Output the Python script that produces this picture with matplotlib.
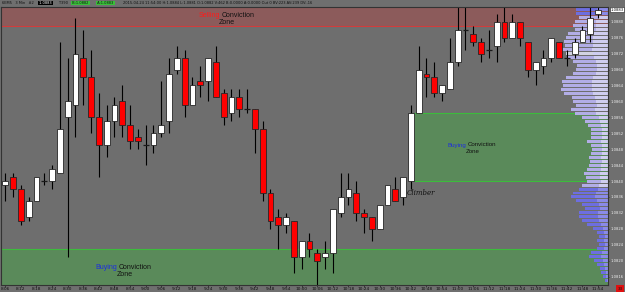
import matplotlib
matplotlib.use("Agg")
import matplotlib.pyplot as plt
from matplotlib.patches import Rectangle
import matplotlib.transforms as mtransforms
import numpy as np

W, H = 625, 292

# 6EM5, 3 minute bars, 2015-04-24 08:06 .. 11:54
opens = [1.0839, 1.0841, 1.0838, 1.0831, 1.0835, 1.0840, 1.0840, 1.0842, 1.0856, 1.0859,
         1.0871, 1.0866, 1.0856, 1.0849, 1.0855, 1.0860, 1.0854, 1.0851, 1.0849, 1.0849,
         1.0852, 1.0855, 1.0868, 1.0871, 1.0859, 1.0865, 1.0865, 1.0870, 1.0862, 1.0857,
         1.0861, 1.0858, 1.0858, 1.0853, 1.0837, 1.0831, 1.0829, 1.0830, 1.0821, 1.0825,
         1.0822, 1.0821, 1.0822, 1.0832, 1.0836, 1.0837, 1.0832, 1.0831, 1.0828, 1.0834,
         1.0838, 1.0836, 1.0840, 1.0857, 1.0867, 1.0866, 1.0862, 1.0863, 1.0870, 1.0878,
         1.0877, 1.0875, 1.0873, 1.0874, 1.0880, 1.0876, 1.0880, 1.0875, 1.0868, 1.0869,
         1.0871, 1.0875, 1.0871, 1.0872, 1.0875, 1.0877, 1.0882]
highs = [1.0842, 1.0842, 1.0839, 1.0836, 1.0841, 1.0842, 1.0844, 1.0875, 1.0871, 1.0881,
         1.0878, 1.0873, 1.0862, 1.0859, 1.0861, 1.0864, 1.0859, 1.0853, 1.0854, 1.0854,
         1.0865, 1.0871, 1.0874, 1.0873, 1.0866, 1.0869, 1.0871, 1.0874, 1.0863, 1.0863,
         1.0863, 1.0863, 1.0858, 1.0855, 1.0838, 1.0833, 1.0832, 1.0830, 1.0825, 1.0827,
         1.0823, 1.0825, 1.0833, 1.0842, 1.0842, 1.0840, 1.0833, 1.0831, 1.0834, 1.0839,
         1.0841, 1.0841, 1.0859, 1.0874, 1.0871, 1.0870, 1.0864, 1.0876, 1.0884, 1.0884,
         1.0879, 1.0876, 1.0878, 1.0882, 1.0884, 1.0882, 1.0880, 1.0875, 1.0870, 1.0873,
         1.0876, 1.0875, 1.0873, 1.0876, 1.0879, 1.0884, 1.0884]
lows = [1.0835, 1.0836, 1.0829, 1.0830, 1.0835, 1.0839, 1.0838, 1.0842, 1.0821, 1.0851,
        1.0859, 1.0852, 1.0841, 1.0846, 1.0851, 1.0851, 1.0848, 1.0848, 1.0844, 1.0847,
        1.0851, 1.0852, 1.0867, 1.0856, 1.0859, 1.0861, 1.0860, 1.0861, 1.0854, 1.0855,
        1.0856, 1.0857, 1.0847, 1.0835, 1.0828, 1.0823, 1.0827, 1.0817, 1.0818, 1.0821,
        1.0814, 1.0818, 1.0817, 1.0831, 1.0834, 1.0830, 1.0827, 1.0825, 1.0828, 1.0834,
        1.0835, 1.0834, 1.0838, 1.0857, 1.0861, 1.0861, 1.0860, 1.0863, 1.0869, 1.0873,
        1.0874, 1.0870, 1.0871, 1.0870, 1.0875, 1.0876, 1.0874, 1.0866, 1.0864, 1.0867,
        1.0870, 1.0871, 1.0869, 1.0871, 1.0875, 1.0875, 1.0881]
closes = [1.0840, 1.0838, 1.0830, 1.0835, 1.0841, 1.0840, 1.0843, 1.0853, 1.0860, 1.0872,
          1.0866, 1.0856, 1.0849, 1.0855, 1.0859, 1.0854, 1.0850, 1.0850, 1.0849, 1.0852,
          1.0854, 1.0867, 1.0871, 1.0859, 1.0864, 1.0864, 1.0871, 1.0861, 1.0856, 1.0861,
          1.0858, 1.0858, 1.0853, 1.0837, 1.0830, 1.0829, 1.0831, 1.0821, 1.0825, 1.0823,
          1.0820, 1.0822, 1.0833, 1.0836, 1.0838, 1.0832, 1.0831, 1.0828, 1.0834, 1.0839,
          1.0835, 1.0841, 1.0857, 1.0868, 1.0866, 1.0862, 1.0864, 1.0870, 1.0878, 1.0878,
          1.0875, 1.0872, 1.0873, 1.0880, 1.0876, 1.0880, 1.0876, 1.0868, 1.0870, 1.0871,
          1.0876, 1.0871, 1.0871, 1.0875, 1.0878, 1.0881, 1.0883]

# one time label every second bar
time_labels = ["8:06", "8:12", "8:18", "8:24", "8:30", "8:36", "8:42", "8:48", "8:54",
               "9:00", "9:06", "9:12", "9:18", "9:24", "9:30", "9:36", "9:42", "9:48",
               "9:54", "10:00", "10:06", "10:12", "10:18", "10:24", "10:30", "10:36",
               "10:42", "10:48", "10:54", "11:00", "11:06", "11:12", "11:18", "11:24",
               "11:30", "11:36", "11:42", "11:48", "11:54"]

price_ticks = [1.0816, 1.0820, 1.0824, 1.0828, 1.0832, 1.0836, 1.0840, 1.0844, 1.0848,
               1.0852, 1.0856, 1.0860, 1.0864, 1.0868, 1.0872, 1.0876, 1.0880]

# volume at price, one row per pip from 1.0883 down to 1.0815
profile_top = 1.0883
profile_volume = [32, 32, 29, 33, 35, 33, 40, 42, 44, 43,
                  47, 42, 41, 35, 31, 32, 35, 42, 46, 45,
                  47, 44, 36, 35, 32, 37, 33, 26, 23, 20,
                  17, 17, 17, 21, 17, 16, 17, 19, 18, 19,
                  21, 24, 22, 21, 26, 29, 35, 37, 32, 26,
                  23, 29, 29, 26, 21, 15, 11, 9, 11, 9,
                  11, 17, 19, 14, 11, 8, 7, 5, 3]
poc_price = 1.0872
value_area = (1.0839, 1.0881)

# conviction zones
selling_zone = (1.0879, 1.0890)
buying_zone_low = (1.0800, 1.0823)
buying_zone_mid = (1.0840, 1.0857)
mid_zone_start_bar = 52
climber_bar = 52

last_price = closes[-1]

BG = "#6f6f6f"
RED_ZONE = "#8c5b5b"
GREEN_ZONE = "#5a8a5a"
GREEN_EDGE = "#3cbc3c"
RED_EDGE = "#d23c3c"
TEXT_DARK = "#111111"


def fx(x):
    return x / W


def fy(y):
    return 1 - y / H


def hide_axis(a):
    a.tick_params(left=False, right=False, bottom=False, top=False,
                  labelleft=False, labelright=False, labelbottom=False, labeltop=False)
    for s in a.spines.values():
        s.set_visible(False)


fig = plt.figure(figsize=(W / 100, H / 100), dpi=100, facecolor=BG)
rect = [fx(1), fy(285), fx(607), 278 / H]

n = len(opens)
xlim = (-0.55, 77.27)
ylim = (1.08139, 1.08837)

# background layer: zones
ax_bg = fig.add_axes(rect)
ax_bg.set_facecolor("#6e6e6e")
ax_bg.set_xlim(*xlim)
ax_bg.set_ylim(*ylim)
ax_bg.axhspan(*selling_zone, color=RED_ZONE, lw=0)
ax_bg.axhline(selling_zone[0], color=RED_EDGE, lw=0.8)
ax_bg.axhspan(*buying_zone_low, color=GREEN_ZONE, lw=0)
ax_bg.axhline(buying_zone_low[1], color=GREEN_EDGE, lw=0.8)
x0 = mid_zone_start_bar + 0.37
ax_bg.add_patch(Rectangle((x0, buying_zone_mid[0]), xlim[1] - x0,
                          buying_zone_mid[1] - buying_zone_mid[0],
                          color=GREEN_ZONE, lw=0))
ax_bg.hlines(buying_zone_mid, x0, xlim[1], color=GREEN_EDGE, lw=0.8)
hide_axis(ax_bg)

# middle layer: volume profile, bars grow from the right edge
ax_p = fig.add_axes(rect, sharey=ax_bg)
ax_p.patch.set_visible(False)
levels = np.round(profile_top - 0.0001 * np.arange(len(profile_volume)), 4)
vol = np.array(profile_volume)
in_va = (levels >= value_area[0]) & (levels <= value_area[1])
colors = np.where(in_va, "#b2ade6", "#6d6ee0")
colors[np.isclose(levels, poc_price)] = "#d2d2e2"
ax_p.barh(levels, vol, height=0.000075, left=0, color=colors, lw=0)
# lighter right-hand end of each bar
ax_p.barh(levels, vol * 0.35, height=0.000075, left=0,
          color=np.where(in_va, "#cfcdf0", "#8a8ae8"), lw=0)
ax_p.set_xlim(607, 0)
hide_axis(ax_p)

# top layer: candles
ax = fig.add_axes(rect, sharex=ax_bg, sharey=ax_bg)
ax.patch.set_visible(False)
idx = np.arange(n)
o = np.array(opens)
c = np.array(closes)
ax.vlines(idx, lows, highs, color="black", lw=0.8, zorder=2)
doji = np.isclose(o, c)
body_lo = np.minimum(o, c)
body_h = np.abs(c - o)
body_col = np.where(c > o, "white", "#ff0000")
ax.bar(idx[~doji], body_h[~doji], bottom=body_lo[~doji], width=0.74,
       color=body_col[~doji], edgecolor="#262626", lw=0.6, zorder=3)
ax.hlines(o[doji], idx[doji] - 0.37, idx[doji] + 0.37, color="#1a1a1a",
          lw=0.9, zorder=3)

ax.set_xlim(*xlim)
ax.set_ylim(*ylim)
ax.set_xticks(idx[::2])
ax.set_xticklabels(time_labels, fontsize=3.1, color=TEXT_DARK)
ax.yaxis.tick_right()
ax.set_yticks(price_ticks)
ax.set_yticklabels([f"{p:.4f}" for p in price_ticks], fontsize=2.7, color="#eeeeee")
ax.tick_params(axis="x", length=1.2, width=0.5, pad=0.6, color="#222222")
ax.tick_params(axis="y", length=1.0, width=0.5, pad=0.5, color="#222222")
for s in ax.spines.values():
    s.set_color("#333333")
    s.set_linewidth(0.8)

# current price marker on the price axis
trans = mtransforms.blended_transform_factory(ax.transAxes, ax.transData)
ax.text(1.004, last_price, f"{last_price:.4f}", transform=trans, fontsize=2.7,
        color=TEXT_DARK, va="center", ha="left",
        bbox=dict(boxstyle="square,pad=0.12", fc="white", ec="#222222", lw=0.4))


# zone captions: coloured first word, black rest
def zone_caption(xsplit, y, word, word_color, size):
    fig.text(fx(xsplit), fy(y), word, fontsize=size, color=word_color,
             ha="right", va="center", family="Liberation Sans")
    fig.text(fx(xsplit + 1.4), fy(y), "Conviction", fontsize=size, color=TEXT_DARK,
             ha="left", va="center", family="Liberation Sans")


zone_caption(220.5, 15.5, "Selling", "#ff1a1a", 5.0)
fig.text(fx(227), fy(22), "Zone", fontsize=5.0, color=TEXT_DARK, ha="center",
         va="center", family="Liberation Sans")
zone_caption(117.5, 267.5, "Buying", "#1c2ce0", 5.0)
fig.text(fx(125), fy(274.5), "Zone", fontsize=5.0, color=TEXT_DARK, ha="center",
         va="center", family="Liberation Sans")
zone_caption(466, 145, "Buying", "#1c2ce0", 4.4)
fig.text(fx(473), fy(151.5), "Zone", fontsize=4.4, color=TEXT_DARK, ha="center",
         va="center", family="Liberation Sans")

ax.text(climber_bar - 0.55, 1.08369, "Climber", fontsize=5.0, color=TEXT_DARK,
        style="italic", family="DejaVu Serif", ha="left", va="center", zorder=5)

# chart header
hdr = dict(fontsize=2.6, color=TEXT_DARK, va="center", ha="left")
fig.text(fx(2), fy(3), "6EM5   3 Min   #2", **hdr)
fig.text(fx(38), fy(3), " 1.0883 ", fontsize=2.6, color="white", va="center",
         ha="left", bbox=dict(boxstyle="square,pad=0.1", fc="black", lw=0))
fig.text(fx(58), fy(3), "T:390", **hdr)
fig.text(fx(71), fy(3), " B:1.0882 ", fontsize=2.6, color=TEXT_DARK, va="center",
         ha="left", bbox=dict(boxstyle="square,pad=0.1", fc="#39c039", lw=0))
fig.text(fx(96), fy(3), " A:1.0883 ", fontsize=2.6, color=TEXT_DARK, va="center",
         ha="left", bbox=dict(boxstyle="square,pad=0.1", fc="#39c039", lw=0))
fig.text(fx(123), fy(3), "2015-04-24 11:54:00 H:1.0884 L:1.0881 O:1.0882 V:462 "
         "B:0.0000 A:0.0000 Out 0 BV:223 AV:239 DV:-16", **hdr)

# bar countdown box
fig.text(fx(620), fy(288.5), "33", fontsize=3.0, color=TEXT_DARK, ha="center",
         va="center", bbox=dict(boxstyle="square,pad=0.25", fc="#e01010", lw=0))

fig.savefig("out.png", dpi=100, facecolor=BG)
